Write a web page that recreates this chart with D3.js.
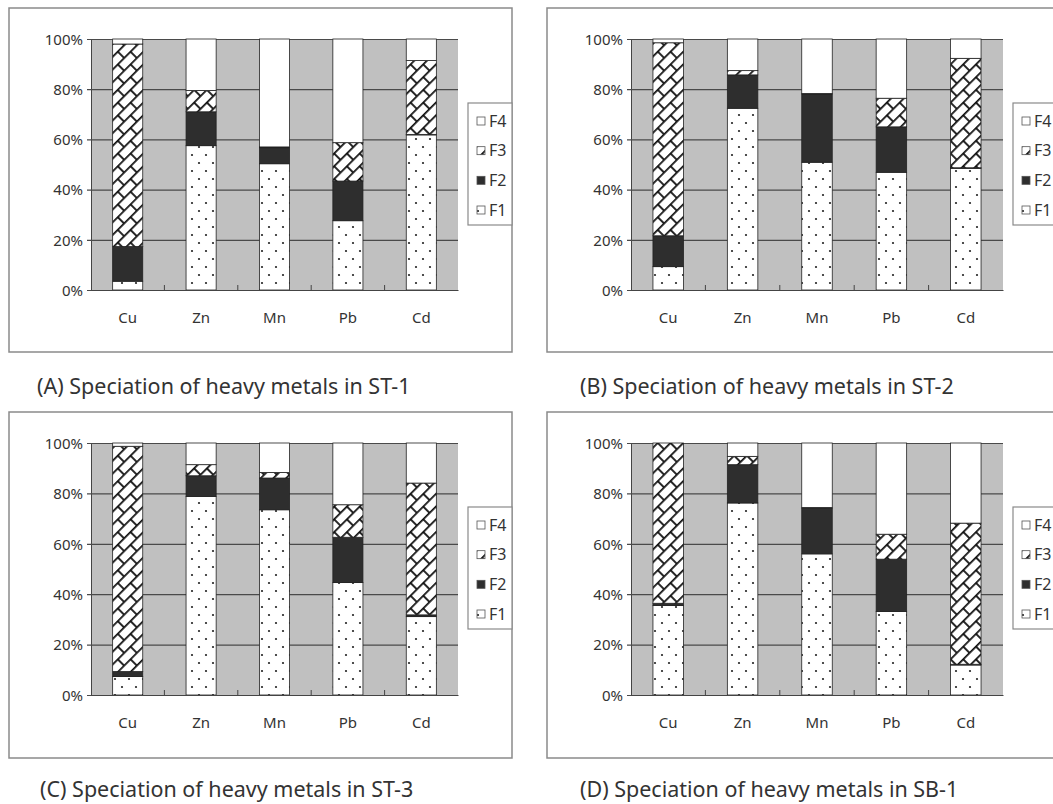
<!DOCTYPE html>
<html>
<head>
<meta charset="utf-8">
<script src="https://cdn.jsdelivr.net/npm/d3@7"></script>
<style>
  body { margin: 0; background: #fff; }
  svg text { font-family: "Noto Sans", "Open Sans", sans-serif; fill: #333; }
</style>
</head>
<body>
<svg id="chart"></svg>
<script>
// Data

let metals = ['Cu', 'Zn', 'Mn', 'Pb', 'Cd']
let fractions = ['F1', 'F2', 'F3', 'F4']
let yTicks = [0, 20, 40, 60, 80, 100]

let captions = [
    '(A) Speciation of heavy metals in ST-1',
    '(B) Speciation of heavy metals in ST-2',
    '(C) Speciation of heavy metals in ST-3',
    '(D) Speciation of heavy metals in SB-1'
]

// percentages per metal, order Cu Zn Mn Pb Cd
let st1F1 = [3.5, 57.5, 50.3, 27.6, 61.8]
let st1F2 = [13.8, 13.5, 6.4, 15.8, 0.2]
let st1F3 = [80.7, 8.5, 0.3, 15.3, 29.4]
let st1F4 = [2.0, 20.5, 43.0, 41.3, 8.6]

let st2F1 = [9.3, 72.4, 50.9, 46.9, 48.5]
let st2F2 = [12.3, 13.3, 27.2, 18.1, 0.2]
let st2F3 = [76.9, 1.7, 0.2, 11.4, 43.6]
let st2F4 = [1.5, 12.6, 21.7, 23.6, 7.7]

let st3F1 = [7.3, 78.8, 73.5, 44.6, 31.1]
let st3F2 = [2.0, 8.2, 12.6, 18.0, 0.7]
let st3F3 = [89.4, 4.4, 2.2, 12.9, 52.3]
let st3F4 = [1.3, 8.6, 11.7, 24.5, 15.9]

let sb1F1 = [35.5, 76.2, 56.0, 33.1, 11.9]
let sb1F2 = [0.9, 15.2, 18.2, 20.8, 0.3]
let sb1F3 = [63.6, 3.3, 0.2, 9.9, 56.0]
let sb1F4 = [0.0, 5.3, 25.6, 36.2, 31.8]

let panelSeries = [
    [st1F1, st1F2, st1F3, st1F4],
    [st2F1, st2F2, st2F3, st2F4],
    [st3F1, st3F2, st3F3, st3F4],
    [sb1F1, sb1F2, sb1F3, sb1F4]
]

// Layout

let width = 1053
let height = 804

let layouts = [
    { fx: 9, fy: 8, fw: 503, fh: 344, px: 91, py: 39, pw: 367, ph: 251, cx: 37, cy: 394 },
    { fx: 547, fy: 8, fw: 520, fh: 344, px: 631, py: 39, pw: 372, ph: 251, cx: 580, cy: 394 },
    { fx: 9, fy: 412, fw: 503, fh: 346, px: 91, py: 443, pw: 367, ph: 252, cx: 40, cy: 797 },
    { fx: 547, fy: 412, fw: 520, fh: 346, px: 631, py: 443, pw: 372, ph: 252, cx: 580, cy: 797 }
]

let svg = d3.select('#chart')
    .attr('width', width)
    .attr('height', height)

// Patterns

let defs = svg.append('defs')

let dots = defs.append('pattern')
    .attr('id', 'dots')
    .attr('patternUnits', 'userSpaceOnUse')
    .attr('width', 14)
    .attr('height', 16)
dots.append('rect').attr('width', 14).attr('height', 16).attr('fill', '#fff')
dots.append('circle').attr('cx', 3).attr('cy', 4).attr('r', 1.1).attr('fill', '#222')
dots.append('circle').attr('cx', 10).attr('cy', 12).attr('r', 1.1).attr('fill', '#222')

let brick = defs.append('pattern')
    .attr('id', 'brick')
    .attr('patternUnits', 'userSpaceOnUse')
    .attr('width', 18)
    .attr('height', 18)
    .attr('patternTransform', 'rotate(-45)')
brick.append('rect').attr('width', 18).attr('height', 18).attr('fill', '#fff')
brick.append('path')
    .attr('d', 'M0,0.8H18M0,9.8H18M1,0.8V9.8M10,9.8V18')
    .attr('stroke', '#111')
    .attr('stroke-width', 1.8)
    .attr('fill', 'none')

let fills = { F1: 'url(#dots)', F2: '#2e2e2e', F3: 'url(#brick)', F4: '#fff' }

// Draw one panel

let drawPanel = (i) => {
    let lay = layouts[i]
    let series = panelSeries[i]

    let rows = metals.map((m, k) => {
        let row = { metal: m }
        fractions.forEach((f, j) => { row[f] = series[j][k] })
        return row
    })

    let stacked = d3.stack().keys(fractions)(rows)

    let xScale = d3.scaleBand()
        .domain(metals)
        .range([0, lay.pw])
        .paddingInner(0.59)
        .paddingOuter(0.295)

    let yScale = d3.scaleLinear()
        .domain([0, 100])
        .range([lay.ph, 0])

    // frame
    svg.append('rect')
        .attr('x', lay.fx)
        .attr('y', lay.fy)
        .attr('width', lay.fw)
        .attr('height', lay.fh)
        .attr('fill', '#fff')
        .attr('stroke', '#8a8a8a')
        .attr('stroke-width', 1.5)

    let g = svg.append('g')
        .attr('transform', 'translate(' + lay.px + ',' + lay.py + ')')

    g.append('rect')
        .attr('width', lay.pw)
        .attr('height', lay.ph)
        .attr('fill', '#c0c0c0')

    let yAxis = d3.axisLeft(yScale)
        .tickValues(yTicks)
        .tickSize(-lay.pw)
        .tickPadding(8)
        .tickFormat((d) => d + '%')

    let yg = g.append('g').call(yAxis)
    yg.select('.domain').attr('stroke', '#444')
    yg.selectAll('.tick line').attr('stroke', '#4a4a4a').attr('stroke-width', 1.2).attr('x1', -4)
    yg.selectAll('.tick text')
        .style('font-size', '15px')
        .attr('dy', '0.35em')

    // bars
    g.selectAll('.layer')
        .data(stacked)
        .enter()
        .append('g')
        .attr('fill', (d) => fills[d.key])
        .selectAll('rect')
        .data((d) => d)
        .enter()
        .append('rect')
        .attr('x', (d) => xScale(d.data.metal))
        .attr('y', (d) => yScale(d[1]))
        .attr('width', xScale.bandwidth())
        .attr('height', (d) => yScale(d[0]) - yScale(d[1]))
        .attr('stroke', '#222')
        .attr('stroke-width', 0.8)

    // bottom axis
    let xAxis = d3.axisBottom(xScale)
        .tickSize(0)
        .tickPadding(22)

    let xg = g.append('g')
        .attr('transform', 'translate(0,' + lay.ph + ')')
        .call(xAxis)
    xg.select('.domain').attr('stroke', '#444').attr('stroke-width', 1.2)
    xg.selectAll('.tick text').style('font-size', '15px')

    // category boundary ticks
    let step = xScale.step()
    g.selectAll('.sep')
        .data(metals.slice(1))
        .enter()
        .append('line')
        .attr('x1', (d) => xScale(d) - step * xScale.paddingInner() / 2)
        .attr('x2', (d) => xScale(d) - step * xScale.paddingInner() / 2)
        .attr('y1', lay.ph)
        .attr('y2', lay.ph - 5)
        .attr('stroke', '#444')

    // legend
    let lg = svg.append('g')
        .attr('transform', 'translate(' + (lay.px + lay.pw + 10) + ',' + (lay.py + 64) + ')')

    lg.append('rect')
        .attr('width', 44)
        .attr('height', 122)
        .attr('fill', '#fff')
        .attr('stroke', '#8a8a8a')
        .attr('stroke-width', 1.2)

    let legendKeys = fractions.slice().reverse()
    let ly = d3.scalePoint().domain(legendKeys).range([18, 107])

    lg.selectAll('.lmark')
        .data(legendKeys)
        .enter()
        .append('rect')
        .attr('x', 9)
        .attr('y', (d) => ly(d) - 4)
        .attr('width', 8)
        .attr('height', 8)
        .attr('fill', (d) => fills[d])
        .attr('stroke', '#555')
        .attr('stroke-width', 0.8)

    lg.selectAll('.ltext')
        .data(legendKeys)
        .enter()
        .append('text')
        .attr('x', 21)
        .attr('y', (d) => ly(d))
        .attr('dy', '0.36em')
        .style('font-size', '16px')
        .text((d) => d)

    // caption
    svg.append('text')
        .attr('x', lay.cx)
        .attr('y', lay.cy)
        .style('font-size', '21.5px')
        .text(captions[i])
}

layouts.forEach((lay, i) => drawPanel(i))
</script>
</body>
</html>
